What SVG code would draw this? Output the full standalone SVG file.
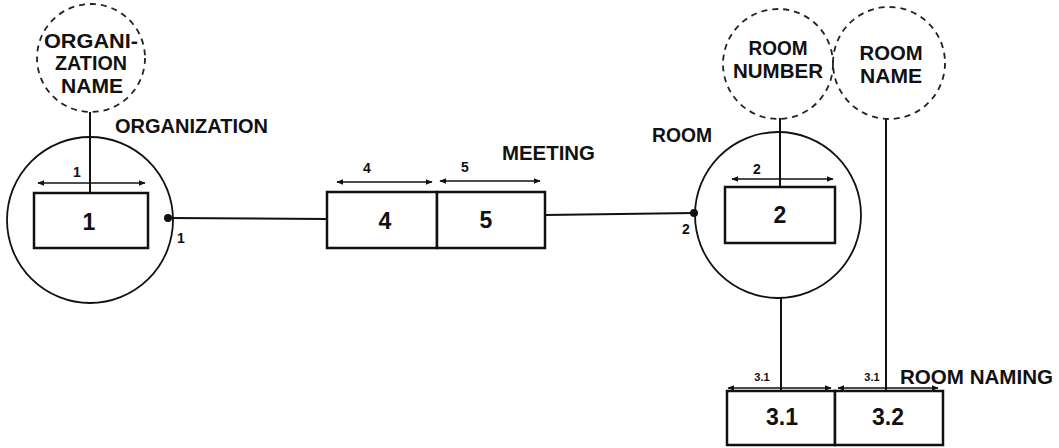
<svg xmlns="http://www.w3.org/2000/svg" width="1059" height="448" viewBox="0 0 1059 448">
<style>
.bg{fill:#fff}
.ent{fill:none;stroke:#111;stroke-width:1.8}
.attr{fill:none;stroke:#222;stroke-width:1.8;stroke-dasharray:6 5}
.box{fill:#fff;stroke:#111;stroke-width:2.5}
.ln{fill:none;stroke:#111;stroke-width:2}
.dim{fill:none;stroke:#111;stroke-width:1.5;marker-start:url(#ah);marker-end:url(#ah)}
.t{font-family:"Liberation Sans",Arial,sans-serif;font-weight:bold;fill:#111}
.lbl{font-size:20px}
.num{font-size:23px;text-anchor:middle}
.sm{font-size:14px;text-anchor:middle}
.xs{font-size:11px;text-anchor:middle}
.at{font-size:21px;text-anchor:middle}
</style>
<defs>
<marker id="ah" viewBox="0 0 10 10" refX="9" refY="5" markerWidth="7" markerHeight="7" orient="auto-start-reverse" markerUnits="userSpaceOnUse">
<path d="M0,1 L10,5 L0,9 Z" fill="#111"/>
</marker>
</defs>
<rect class="bg" x="0" y="0" width="1059" height="448"/>

<g id="connectors">
<line class="ln" x1="90" y1="112" x2="90" y2="193"/>
<line class="ln" x1="168" y1="218" x2="327" y2="219"/>
<line class="ln" x1="545" y1="215" x2="694" y2="213"/>
<line class="ln" x1="780" y1="118" x2="780" y2="187"/>
<line class="ln" x1="886" y1="119" x2="886" y2="391"/>
<line class="ln" x1="781" y1="298" x2="781" y2="391"/>
<circle cx="168" cy="218" r="4" fill="#111"/>
<circle cx="694" cy="213" r="4" fill="#111"/>
<text class="t sm" x="181" y="243">1</text>
<text class="t sm" x="686" y="234">2</text>
</g>

<g id="organization-name">
<circle class="attr" cx="91" cy="58" r="54"/>
<text class="t at" x="91" y="48" textLength="94" lengthAdjust="spacingAndGlyphs">ORGANI-</text>
<text class="t at" x="91" y="70" textLength="72" lengthAdjust="spacingAndGlyphs">ZATION</text>
<text class="t at" x="92" y="93" textLength="62" lengthAdjust="spacingAndGlyphs">NAME</text>
</g>

<g id="organization">
<circle class="ent" cx="90" cy="220" r="83"/>
<text class="t lbl" x="115" y="133" textLength="153" lengthAdjust="spacingAndGlyphs">ORGANIZATION</text>
<line class="dim" x1="38" y1="183" x2="145" y2="183"/>
<text class="t sm" x="77" y="177">1</text>
<rect class="box" x="34" y="193" width="114" height="55"/>
<text class="t num" x="89" y="230">1</text>
</g>

<g id="meeting">
<text class="t lbl" x="502" y="160" textLength="93" lengthAdjust="spacingAndGlyphs">MEETING</text>
<line class="dim" x1="337" y1="182" x2="432" y2="182"/>
<text class="t sm" x="367" y="173">4</text>
<line class="dim" x1="440" y1="181" x2="540" y2="181"/>
<text class="t sm" x="465" y="172">5</text>
<rect class="box" x="327" y="192" width="110" height="56"/>
<rect class="box" x="437" y="192" width="108" height="56"/>
<text class="t num" x="385" y="229">4</text>
<text class="t num" x="486" y="228">5</text>
</g>

<g id="room-number">
<circle class="attr" cx="778" cy="64" r="55"/>
<text class="t at" x="778" y="55" textLength="59" lengthAdjust="spacingAndGlyphs">ROOM</text>
<text class="t at" x="778" y="78" textLength="90" lengthAdjust="spacingAndGlyphs">NUMBER</text>
</g>

<g id="room-name">
<circle class="attr" cx="889" cy="63" r="56"/>
<text class="t at" x="891" y="60" textLength="63" lengthAdjust="spacingAndGlyphs">ROOM</text>
<text class="t at" x="891" y="83" textLength="62" lengthAdjust="spacingAndGlyphs">NAME</text>
</g>

<g id="room">
<circle class="ent" cx="778" cy="215" r="83"/>
<text class="t lbl" x="652" y="142" textLength="60" lengthAdjust="spacingAndGlyphs">ROOM</text>
<line class="dim" x1="732" y1="179" x2="833" y2="179"/>
<text class="t sm" x="757" y="174">2</text>
<rect class="box" x="725" y="187" width="110" height="56"/>
<text class="t num" x="780" y="223">2</text>
</g>

<g id="room-naming">
<text class="t lbl" x="900" y="384" textLength="153" lengthAdjust="spacingAndGlyphs">ROOM NAMING</text>
<line class="dim" x1="728" y1="388" x2="831" y2="388"/>
<text class="t xs" x="762" y="381">3.1</text>
<line class="dim" x1="838" y1="388" x2="938" y2="388"/>
<text class="t xs" x="872" y="381">3.1</text>
<rect class="box" x="727" y="391" width="108" height="54"/>
<rect class="box" x="835" y="391" width="108" height="54"/>
<text class="t num" x="782" y="425">3.1</text>
<text class="t num" x="888" y="425">3.2</text>
</g>
</svg>
